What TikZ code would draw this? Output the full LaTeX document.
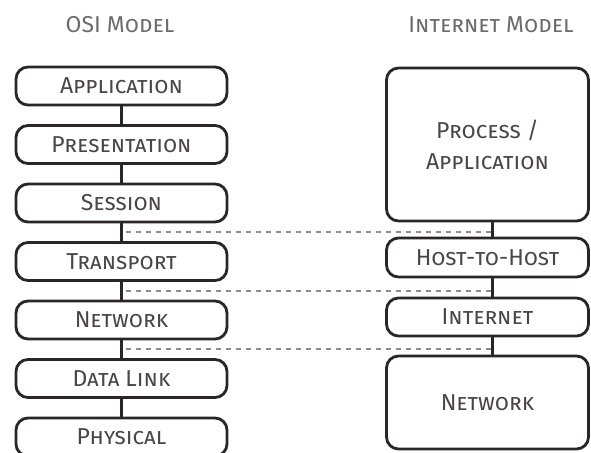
\documentclass[tikz,border=0pt]{standalone}
\usepackage{fontspec}
\setmainfont{Fira Sans}
\usetikzlibrary{calc,positioning}

\definecolor{boxline}{HTML}{2A2528}
\definecolor{labeltext}{HTML}{4A4548}
\definecolor{titletext}{HTML}{6E6A6C}
\definecolor{dashgray}{HTML}{8C8C8C}

\tikzset{
  layer/.style={draw=boxline, line width=2.8pt, rounded corners=12pt,
    minimum width=211pt, minimum height=38pt, inner sep=2pt,
    text=labeltext, align=center, font=\fontsize{23}{31}\selectfont\scshape},
  link/.style={draw=boxline, line width=3pt},
  peer/.style={draw=dashgray, line width=1.8pt, dash pattern=on 5pt off 5pt},
  heading/.style={text=titletext, font=\fontsize{23}{26}\selectfont\scshape}
}

\begin{document}
\begin{tikzpicture}[x=1pt,y=-1pt]
			\useasboundingbox (0,0) rectangle (591,452);
			\clip (0,0) rectangle (591,452);
			
			% column headings
			\node[heading] (osititle) at (120,25) {OSI Model};
			\node[heading] (inettitle) at (491,25) {Internet Model};
			
			% OSI stack
			\node[layer] (app) at (121.5,86) {Application};
			\node[layer] (pres) at (121.5,144.5) {Presentation};
			\node[layer] (sess) at (121.5,203) {Session};
			\node[layer] (trans) at (121.5,261.5) {Transport};
			\node[layer] (net) at (121.5,320) {Network};
			\node[layer] (dlink) at (121.5,378.5) {Data Link};
			\node[layer] (phys) at (121.5,437) {Physical};
			
			\draw[link] (app) -- (pres);
			\draw[link] (pres) -- (sess);
			\draw[link] (sess) -- (trans);
			\draw[link] (trans) -- (net);
			\draw[link] (net) -- (dlink);
			\draw[link] (dlink) -- (phys);
			
			% Internet stack
			\node[layer, minimum width=202pt, minimum height=153pt] (proc) at (487.5,144.5) {Process /\\Application};
			\node[layer, minimum width=202pt, minimum height=39pt] (host) at (487.5,257.5) {Host-to-Host};
			\node[layer, minimum width=202pt] (inet) at (487.5,317) {Internet};
			\node[layer, minimum width=202pt, minimum height=93pt] (link) at (487.5,402.5) {Network};
			
			\draw[link] ([xshift=5pt]proc.south) -- ([xshift=5pt]host.north);
			\draw[link] ([xshift=5pt]host.south) -- ([xshift=5pt]inet.north);
			\draw[link] ([xshift=5pt]inet.south) -- ([xshift=5pt]link.north);
			
			% layer boundaries shared by both models
			\coordinate (l1) at ($(sess.south)!.5!(trans.north)$);
			\coordinate (l2) at ($(trans.south)!.5!(net.north)$);
			\coordinate (l3) at ($(net.south)!.5!(dlink.north)$);
			\coordinate (r1) at ([xshift=5pt]$(proc.south)!.5!(host.north)$);
			
			\draw[peer] ([xshift=4pt]l1) -- (l1 -| r1);
			\draw[peer] ([xshift=4pt]l2) -- (l2 -| r1);
			\draw[peer] ([xshift=4pt]l3) -- (l3 -| r1);
		\end{tikzpicture}
\end{document}
